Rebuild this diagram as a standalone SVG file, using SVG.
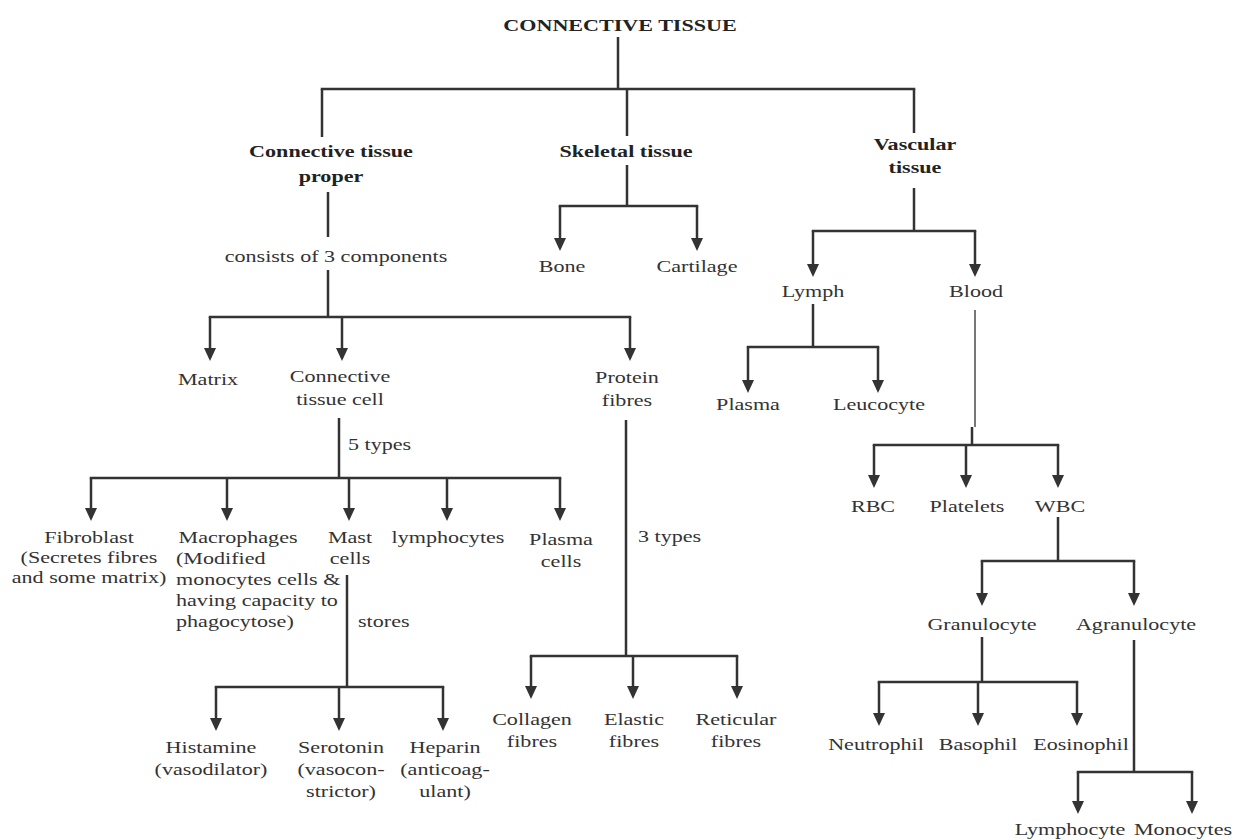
<svg xmlns="http://www.w3.org/2000/svg" width="1237" height="840" viewBox="0 0 1237 840">
<style>
.t{font-family:"Liberation Serif","Times New Roman",serif;font-size:17px;fill:#333;text-anchor:middle}
.b{font-weight:bold;fill:#222}
.l{text-anchor:start}
.c path{fill:none;stroke:#333;stroke-width:2.5}
.c .h{stroke-linecap:square}
.c .a{marker-end:url(#ah)}
.c .thin{stroke:#555;stroke-width:1.6}
</style>
<defs>
<marker id="ah" markerUnits="userSpaceOnUse" markerWidth="13" markerHeight="12" viewBox="0 0 13 12" refX="0" refY="6" orient="auto">
<path d="M0,0 L13,6 L0,12 z" fill="#333"/>
</marker>
</defs>
<rect width="1237" height="840" fill="#fff"/>
<g class="c" id="connectors">
<path d="M618,37V89"/>
<path class="h" d="M322,89H914"/>
<path d="M322,89V137"/>
<path d="M627,89V136"/>
<path d="M914,89V133"/>
<path d="M328,192V237"/>
<path d="M328,270V317"/>
<path class="h" d="M210,317H630"/>
<path class="a" d="M210,317V348"/>
<path class="a" d="M342,317V348"/>
<path class="a" d="M630,317V348"/>
<path d="M627,165V206"/>
<path class="h" d="M560,206H697"/>
<path class="a" d="M560,206V238"/>
<path class="a" d="M697,206V238"/>
<path d="M914,188V231"/>
<path class="h" d="M813,231H975"/>
<path class="a" d="M813,231V264"/>
<path class="a" d="M975,231V264"/>
<path d="M813,304V347"/>
<path class="h" d="M748,347H878"/>
<path class="a" d="M748,347V380"/>
<path class="a" d="M878,347V380"/>
<path class="thin" d="M975,310V427"/>
<path d="M972,427V445"/>
<path class="h" d="M874,445H1058"/>
<path class="a" d="M874,445V475"/>
<path class="a" d="M966,445V475"/>
<path class="a" d="M1058,445V475"/>
<path d="M1058,517V561"/>
<path class="h" d="M982,561H1134"/>
<path class="a" d="M982,561V593"/>
<path class="a" d="M1134,561V593"/>
<path d="M982,637V682"/>
<path class="h" d="M879,682H1077"/>
<path class="a" d="M879,682V713"/>
<path class="a" d="M978,682V713"/>
<path class="a" d="M1077,682V713"/>
<path d="M1134,640V772"/>
<path class="h" d="M1078,772H1192"/>
<path class="a" d="M1078,772V801"/>
<path class="a" d="M1192,772V801"/>
<path d="M339,418V478"/>
<path class="h" d="M91,478H560"/>
<path class="a" d="M91,478V508"/>
<path class="a" d="M227,478V508"/>
<path class="a" d="M349,478V508"/>
<path class="a" d="M447,478V508"/>
<path class="a" d="M560,478V508"/>
<path d="M347,575V687"/>
<path class="h" d="M216,687H443"/>
<path class="a" d="M216,687V718"/>
<path class="a" d="M339,687V718"/>
<path class="a" d="M443,687V718"/>
<path d="M626,420V656"/>
<path class="h" d="M531,656H737"/>
<path class="a" d="M531,656V686"/>
<path class="a" d="M633,656V686"/>
<path class="a" d="M737,656V686"/>
</g>
<g id="n-root"><text class="t b" transform="translate(620,31) scale(1.3,1)">CONNECTIVE TISSUE</text></g>
<g id="n-ctp"><text class="t b" transform="translate(331,157) scale(1.3,1)"><tspan x="0">Connective tissue</tspan><tspan x="0" dy="25">proper</tspan></text></g>
<g id="n-skeletal"><text class="t b" transform="translate(626,157) scale(1.3,1)">Skeletal tissue</text></g>
<g id="n-vascular"><text class="t b" transform="translate(915,150) scale(1.3,1)"><tspan x="0">Vascular</tspan><tspan x="0" dy="23">tissue</tspan></text></g>
<g id="l-consists"><text class="t" transform="translate(336,262) scale(1.3,1)">consists of 3 components</text></g>
<g id="n-bone"><text class="t" transform="translate(562,272) scale(1.3,1)">Bone</text></g>
<g id="n-cartilage"><text class="t" transform="translate(697,272) scale(1.3,1)">Cartilage</text></g>
<g id="n-lymph"><text class="t" transform="translate(813,297) scale(1.3,1)">Lymph</text></g>
<g id="n-blood"><text class="t" transform="translate(976,297) scale(1.3,1)">Blood</text></g>
<g id="n-plasma"><text class="t" transform="translate(748,410) scale(1.3,1)">Plasma</text></g>
<g id="n-leucocyte"><text class="t" transform="translate(879,410) scale(1.3,1)">Leucocyte</text></g>
<g id="n-rbc"><text class="t" transform="translate(873,512) scale(1.3,1)">RBC</text></g>
<g id="n-platelets"><text class="t" transform="translate(967,512) scale(1.3,1)">Platelets</text></g>
<g id="n-wbc"><text class="t" transform="translate(1060,512) scale(1.3,1)">WBC</text></g>
<g id="n-granulocyte"><text class="t" transform="translate(982,630) scale(1.3,1)">Granulocyte</text></g>
<g id="n-agranulocyte"><text class="t" transform="translate(1136,630) scale(1.3,1)">Agranulocyte</text></g>
<g id="n-neutrophil"><text class="t" transform="translate(876,750) scale(1.3,1)">Neutrophil</text></g>
<g id="n-basophil"><text class="t" transform="translate(978,750) scale(1.3,1)">Basophil</text></g>
<g id="n-eosinophil"><text class="t" transform="translate(1081,750) scale(1.3,1)">Eosinophil</text></g>
<g id="n-lymphocyte"><text class="t" transform="translate(1070,835) scale(1.3,1)">Lymphocyte</text></g>
<g id="n-monocytes"><text class="t" transform="translate(1183,835) scale(1.3,1)">Monocytes</text></g>
<g id="n-matrix"><text class="t" transform="translate(208,385) scale(1.3,1)">Matrix</text></g>
<g id="n-ctc"><text class="t" transform="translate(340,382) scale(1.3,1)"><tspan x="0">Connective</tspan><tspan x="0" dy="23">tissue cell</tspan></text></g>
<g id="n-protein"><text class="t" transform="translate(627,383) scale(1.3,1)"><tspan x="0">Protein</tspan><tspan x="0" dy="23">fibres</tspan></text></g>
<g id="l-5types"><text class="t l" transform="translate(348,450) scale(1.3,1)">5 types</text></g>
<g id="n-fibroblast"><text class="t" transform="translate(89,543) scale(1.3,1)"><tspan x="0">Fibroblast</tspan><tspan x="0" dy="20">(Secretes fibres</tspan><tspan x="0" dy="20">and some matrix)</tspan></text></g>
<g id="n-macrophages"><text class="t l" transform="translate(176,543) scale(1.3,1)"><tspan x="2">Macrophages</tspan><tspan x="0" dy="21">(Modified</tspan><tspan x="0" dy="21">monocytes cells &amp;</tspan><tspan x="0" dy="21">having capacity to</tspan><tspan x="0" dy="21">phagocytose)</tspan></text></g>
<g id="n-mast"><text class="t" transform="translate(350,543) scale(1.3,1)"><tspan x="0">Mast</tspan><tspan x="0" dy="21">cells</tspan></text></g>
<g id="n-lymphocytes"><text class="t" transform="translate(448,543) scale(1.3,1)">lymphocytes</text></g>
<g id="n-plasmacells"><text class="t" transform="translate(561,545) scale(1.3,1)"><tspan x="0">Plasma</tspan><tspan x="0" dy="22">cells</tspan></text></g>
<g id="l-stores"><text class="t l" transform="translate(358,627) scale(1.3,1)">stores</text></g>
<g id="l-3types"><text class="t l" transform="translate(638,542) scale(1.3,1)">3 types</text></g>
<g id="n-collagen"><text class="t" transform="translate(532,725) scale(1.3,1)"><tspan x="0">Collagen</tspan><tspan x="0" dy="22">fibres</tspan></text></g>
<g id="n-elastic"><text class="t" transform="translate(634,725) scale(1.3,1)"><tspan x="0">Elastic</tspan><tspan x="0" dy="22">fibres</tspan></text></g>
<g id="n-reticular"><text class="t" transform="translate(736,725) scale(1.3,1)"><tspan x="0">Reticular</tspan><tspan x="0" dy="22">fibres</tspan></text></g>
<g id="n-histamine"><text class="t" transform="translate(211,753) scale(1.3,1)"><tspan x="0">Histamine</tspan><tspan x="0" dy="22">(vasodilator)</tspan></text></g>
<g id="n-serotonin"><text class="t" transform="translate(341,753) scale(1.3,1)"><tspan x="0">Serotonin</tspan><tspan x="0" dy="22">(vasocon-</tspan><tspan x="0" dy="22">strictor)</tspan></text></g>
<g id="n-heparin"><text class="t" transform="translate(445,753) scale(1.3,1)"><tspan x="0">Heparin</tspan><tspan x="0" dy="22">(anticoag-</tspan><tspan x="0" dy="22">ulant)</tspan></text></g>
</svg>
